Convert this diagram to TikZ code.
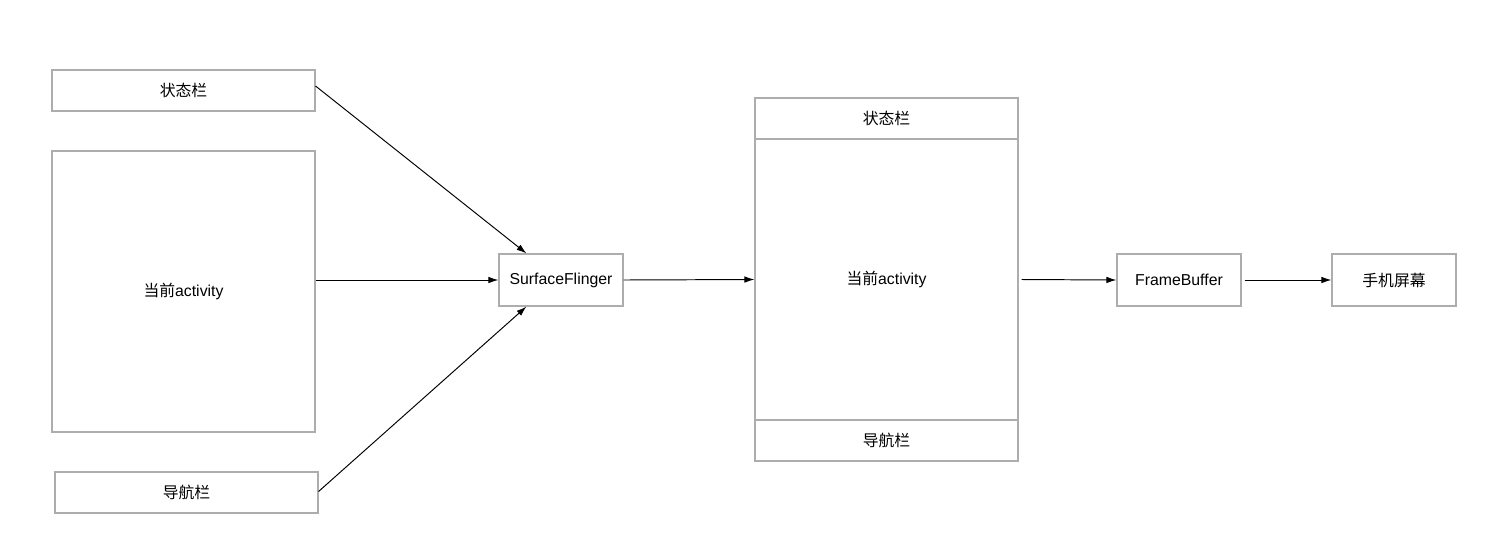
\documentclass[tikz,border=0pt]{standalone}
\usepackage{fontspec}
\setmainfont{Liberation Sans}
\newfontfamily\cjk{Noto Sans CJK SC}
\usetikzlibrary{arrows.meta, positioning}

\begin{document}
\begin{tikzpicture}[
    x=0.02cm, y=-0.02cm,
    >={Latex[length=2mm, width=1.3mm]},
    box/.style={draw=black!32, line width=0.65pt, fill=white, inner sep=0pt},
    bar/.style={box, minimum width=5.26cm, minimum height=0.82cm},
    body/.style={box, minimum width=5.26cm, minimum height=5.62cm},
    unit/.style={box, minimum width=2.48cm, minimum height=1.04cm},
    flow/.style={->, line width=0.55pt},
    every node/.style={font=\fontsize{9}{10}\selectfont}
  ]
  \useasboundingbox (0,0) rectangle (1500,555);

  % Layers
  \node[bar]  (sbar) at (183.5,90.5)  {\cjk 状态栏};
  \node[body] (act)  at (183.5,291.5) {{\cjk 当前}activity};
  \node[bar]  (nbar) at (186.5,492.5) {\cjk 导航栏};

  % Composer
  \node[unit] (sf) at (561,280) {SurfaceFlinger};

  % Composed frame
  \node[body] (cact)  at (886.5,279.5) {{\cjk 当前}activity};
  \node[bar]  (csbar) at (886.5,118.5) {\cjk 状态栏};
  \node[bar]  (cnbar) at (886.5,440.5) {\cjk 导航栏};

  % Output
  \node[unit] (fb)    at (1179,280) {FrameBuffer};
  \node[unit] (phone) at (1394,280) {\cjk 手机屏幕};

  % Arrows
  \draw[flow] ([yshift=0.09cm]sbar.east) -- ([xshift=0.56cm]sf.north west);
  \draw[flow] (act.east |- sf.west) -- (sf.west);
  \draw[flow] ([yshift=0.02cm]nbar.east) -- ([xshift=0.56cm]sf.south west);
  \draw[flow] (sf.east) -- (cact.west);
  \draw[flow] ([xshift=0.06cm]cact.east) -- (fb.west);
  \draw[flow] ([xshift=0.06cm]fb.east) -- (phone.west);
\end{tikzpicture}
\end{document}
